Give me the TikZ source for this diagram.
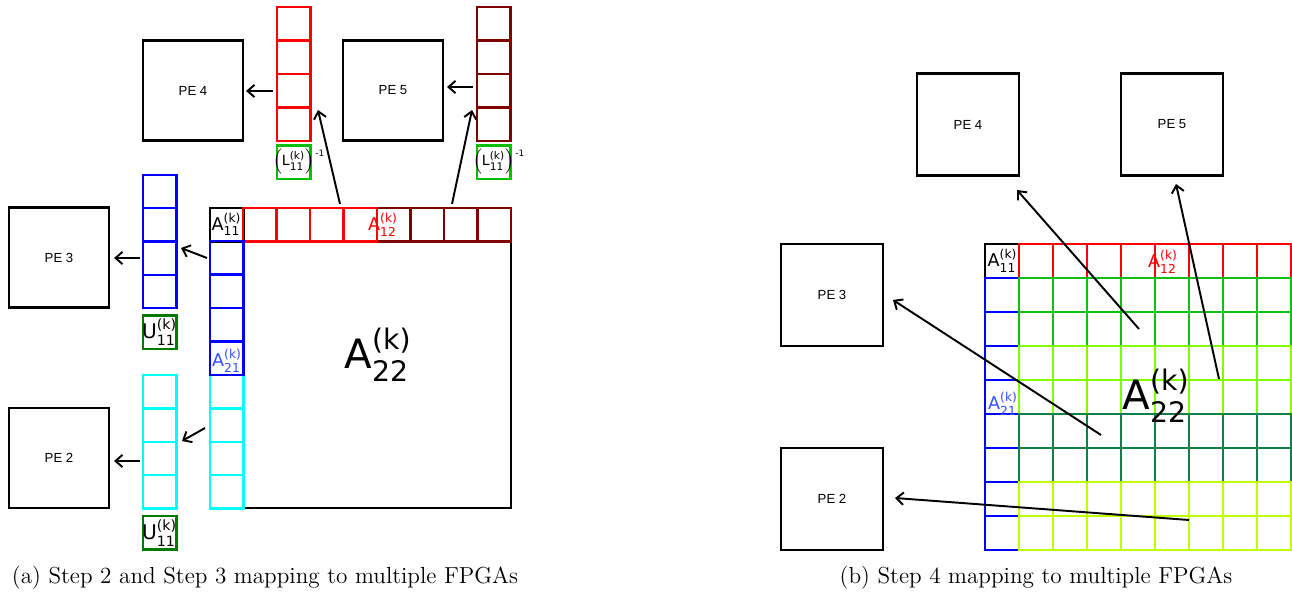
\documentclass[tikz,border=0pt]{standalone}
\usepackage{amsmath}
\usepackage{fontspec}
\setsansfont{DejaVu Sans}
\newfontfamily\pefont{Liberation Sans}
\usepackage{tikz}
\usetikzlibrary{arrows.meta,positioning,calc}

\definecolor{darkred}{HTML}{800000}
\definecolor{lgreen}{HTML}{00C000}
\definecolor{ugreen}{HTML}{007A00}
\definecolor{agreen}{HTML}{10C010}
\definecolor{bgreen}{HTML}{80FF00}
\definecolor{cgreen}{HTML}{108048}
\definecolor{dgreen}{HTML}{C0FF00}
\definecolor{lblue}{HTML}{3050FF}
\definecolor{pcyan}{HTML}{00FFFF}

\newcommand{\mlab}[2]{#1$^{\text{(k)}}_{\text{#2}}$}

\tikzset{
  pebox/.style={draw,line width=1.2pt,minimum width=2cm,minimum height=2cm,
                font=\pefont\fontsize{7.5}{9}\selectfont},
  cell/.style={line width=1.3pt},
  lab/.style={font=\sffamily\fontsize{10}{12}\selectfont,inner sep=0pt},
  biglab/.style={font=\sffamily\fontsize{23}{27}\selectfont,inner sep=0pt},
  captext/.style={font=\fontsize{13.2}{15}\selectfont,inner sep=0pt},
  conn/.style={->,line width=1.1pt}
}

\begin{document}
\begin{tikzpicture}[x=0.02cm,y=-0.02cm,>={Straight Barb[length=4pt,width=7pt]}]
  \useasboundingbox (0,0) rectangle (1292,594);

  % (a) step 2 and step 3
  \node[pebox] (pe4a) at (193,90.5) {PE 4};
  \node[pebox] (pe5a) at (393,90.5) {PE 5};
  \node[pebox] (pe3a) at (59,257.5) {PE 3};
  \node[pebox] (pe2a) at (59,458) {PE 2};

  \draw[line width=1.2pt] (243,241) rectangle (511,508);
  \draw[cell] (210,208) rectangle ++(33.5,33.5);
  \foreach \i in {0,...,3} {
    \draw[cell,red] (243+33.5*\i,208) rectangle ++(33.5,33.5);
    \draw[cell,darkred] (377+33.5*\i,208) rectangle ++(33.5,33.5);
  }
  \foreach \i in {0,...,3} {
    \draw[cell,pcyan] (210,375+33.4*\i) rectangle ++(33.5,33.4);
    \draw[cell,pcyan] (143,375+33.4*\i) rectangle ++(33.5,33.4);
  }
  \foreach \i in {0,...,3} {
    \draw[cell,blue] (210,241+33.5*\i) rectangle ++(33.5,33.5);
    \draw[cell,blue] (143,175+33.3*\i) rectangle ++(33.5,33.3);
    \draw[cell,red] (277,7+33.5*\i) rectangle ++(33.5,33.5);
    \draw[cell,darkred] (477,7+33.5*\i) rectangle ++(33.5,33.5);
  }
  \draw[cell,lgreen] (277,145.5) rectangle ++(33.5,33.5);
  \draw[cell,lgreen] (477,145.5) rectangle ++(33.5,33.5);
  \draw[cell,ugreen] (143,315.5) rectangle ++(33.5,33.5);
  \draw[cell,ugreen] (143,516) rectangle ++(33.5,33.5);

  \node[lab] (a11a) at (226.5,224.5) {\mlab{A}{11}};
  \node[lab,red] (a12a) at (383,225) {\mlab{A}{12}};
  \node[lab,lblue] (a21a) at (227,361) {\mlab{A}{21}};
  \node[biglab] (a22a) at (378,355) {\mlab{A}{22}};
  \node[lab,font=\sffamily\fontsize{8}{9}\selectfont] (l4) at (293.5,162)
    {$\left(\text{L}^{\text{(k)}}_{\text{11}}\right)$\rlap{\raisebox{1.2ex}{\tiny\,-1}}};
  \node[lab,font=\sffamily\fontsize{8}{9}\selectfont] (l5) at (493.5,162)
    {$\left(\text{L}^{\text{(k)}}_{\text{11}}\right)$\rlap{\raisebox{1.2ex}{\tiny\,-1}}};
  \node[lab,font=\sffamily\fontsize{11.5}{13}\selectfont] (u3) at (159.5,332) {\mlab{U}{11}};
  \node[lab,font=\sffamily\fontsize{11.5}{13}\selectfont] (u2) at (159.5,533) {\mlab{U}{11}};

  \coordinate (r4) at (273,91);
  \coordinate (r5) at (473,87);
  \coordinate (b3) at (140,258);
  \coordinate (c2) at (140,461);
  \draw[conn] (r4) -- ($(r4 -| pe4a.east)+(2,0)$);
  \draw[conn] (r5) -- ($(r5 -| pe5a.east)+(3,0)$);
  \draw[conn] (b3) -- ($(b3 -| pe3a.east)+(4,0)$);
  \draw[conn] (c2) -- ($(c2 -| pe2a.east)+(4,0)$);

  \coordinate (s4) at (340,204);
  \coordinate (t4) at (318,110);
  \coordinate (s5) at (452,204);
  \coordinate (t5) at (472,110);
  \coordinate (s3) at (207,258);
  \coordinate (t3) at (181,248);
  \coordinate (s2) at (205,428);
  \coordinate (t2) at (182,441);
  \draw[conn] (s4) -- (t4);
  \draw[conn] (s5) -- (t5);
  \draw[conn] (s3) -- (t3);
  \draw[conn] (s2) -- (t2);

  \node[captext] (capa) at (265,578) {(a) Step 2 and Step 3 mapping to multiple FPGAs};

  % (b) step 4
  \node[pebox,minimum width=2.04cm,minimum height=2.04cm] (pe4b) at (968,124.5) {PE 4};
  \node[pebox,minimum width=2.04cm,minimum height=2.04cm] (pe5b) at (1172,124.5) {PE 5};
  \node[pebox,minimum width=2.04cm,minimum height=2.04cm] (pe3b) at (832,295) {PE 3};
  \node[pebox,minimum width=2.04cm,minimum height=2.04cm] (pe2b) at (832,499) {PE 2};

  \draw[cell] (985,244) rectangle ++(34,34);
  \foreach \i in {0,...,7} {
    \draw[cell,red] (1019+34*\i,244) rectangle ++(34,34);
    \draw[cell,blue] (985,278+34*\i) rectangle ++(34,34);
  }
  \foreach \r/\c in {0/agreen,1/agreen,2/bgreen,3/bgreen,4/cgreen,5/cgreen,6/dgreen,7/dgreen}
    \foreach \i in {0,...,7}
      \draw[cell,\c] (1019+34*\i,278+34*\r) rectangle ++(34,34);

  \node[lab] (a11b) at (1002.5,261) {\mlab{A}{11}};
  \node[lab,red] (a12b) at (1163,262) {\mlab{A}{12}};
  \node[lab,lblue] (a21b) at (1003,404) {\mlab{A}{21}};
  \node[biglab] (a22b) at (1156,396) {\mlab{A}{22}};

  \coordinate (g4) at (1139,329);
  \coordinate (h4) at (1017,190);
  \coordinate (g5) at (1219,379);
  \coordinate (h5) at (1176,184);
  \coordinate (g3) at (1101,435);
  \coordinate (h3) at (893,300);
  \coordinate (g2) at (1189,520);
  \coordinate (h2) at (895,498);
  \draw[conn] (g4) -- (h4);
  \draw[conn] (g5) -- (h5);
  \draw[conn] (g3) -- (h3);
  \draw[conn] (g2) -- (h2);

  \node[captext] (capb) at (1036,578) {(b) Step 4 mapping to multiple FPGAs};
\end{tikzpicture}
\end{document}
